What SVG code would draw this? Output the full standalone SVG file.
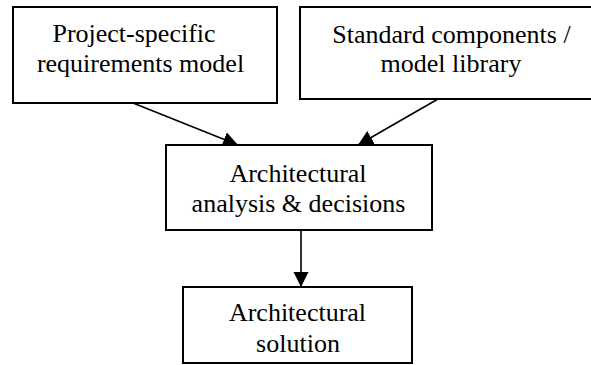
<svg xmlns="http://www.w3.org/2000/svg" width="591" height="365" viewBox="0 0 591 365">
  <style>
    .box { fill: #ffffff; stroke: #000000; stroke-width: 2; }
    .label { font-family: "Liberation Serif", "Times New Roman", serif; font-size: 26px; fill: #000000; text-anchor: middle; }
    .edge { stroke: #000000; stroke-width: 1.6; fill: none; marker-end: url(#arrow); }
  </style>
  <defs>
    <marker id="arrow" markerUnits="userSpaceOnUse" markerWidth="16" markerHeight="16" refX="15" refY="7.5" orient="auto">
      <path d="M0,0 L15,7.5 L0,15 Z" fill="#000000"/>
    </marker>
  </defs>
  <rect width="591" height="365" fill="#ffffff"/>

  <g id="connectors">
    <line class="edge" x1="133" y1="103" x2="238" y2="145"/>
    <line class="edge" x1="438" y1="99" x2="358" y2="145"/>
    <line class="edge" x1="301" y1="230" x2="301" y2="287"/>
  </g>

  <g id="requirements">
    <rect class="box" x="13" y="7" width="264" height="96"/>
    <text class="label" x="134" y="42">Project-specific</text>
    <text class="label" x="140.5" y="72">requirements model</text>
  </g>

  <g id="library">
    <rect class="box" x="300" y="7" width="294" height="92"/>
    <text class="label" x="451.5" y="43">Standard components /</text>
    <text class="label" x="451" y="72">model library</text>
  </g>

  <g id="analysis">
    <rect class="box" x="166" y="145" width="266" height="85"/>
    <text class="label" x="298" y="182">Architectural</text>
    <text class="label" x="298.5" y="212">analysis &amp; decisions</text>
  </g>

  <g id="solution">
    <rect class="box" x="183" y="287" width="229" height="76"/>
    <text class="label" x="297.5" y="321">Architectural</text>
    <text class="label" x="298" y="352">solution</text>
  </g>
</svg>
